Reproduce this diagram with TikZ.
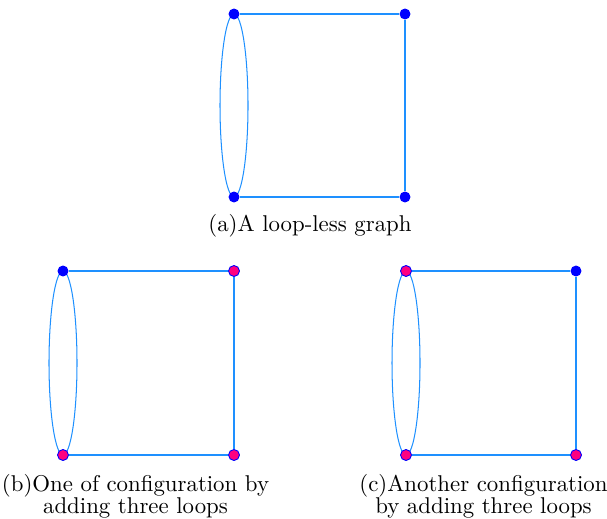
\documentclass[tikz,border=0pt]{standalone}
\usetikzlibrary{calc,backgrounds}

\definecolor{edgeblue}{RGB}{30,144,255}
\definecolor{loopred}{RGB}{255,0,128}

\tikzset{
  vplain/.style={circle, fill=blue, inner sep=0pt, minimum size=4.8pt},
  vloop/.style={circle, fill=loopred, draw=blue, line width=0.4pt, inner sep=0pt, minimum size=4.8pt},
  gedge/.style={edgeblue, line width=0.45pt},
  caption/.style={align=center, anchor=base, inner sep=0pt}
}

\begin{document}
\begin{tikzpicture}[x=0.0154cm, y=-0.0154cm]
  \useasboundingbox (0,0) rectangle (607,518);

  % (a) graph without loops
  \begin{scope}[shift={(234,14)}]
    \node[vplain] (a1) at (0,0) {};
    \node[vplain] (a2) at (171,0) {};
    \node[vplain] (a3) at (0,183) {};
    \node[vplain] (a4) at (171,183) {};
    \begin{scope}[on background layer]
      \draw[gedge] (a1) -- (a2) -- (a4) -- (a3);
      \draw[gedge] ($(a1)!0.5!(a3)$) ellipse [x radius=14*0.0154cm, y radius=91.5*0.0154cm];
    \end{scope}
    \node[caption] (capa) at (76,217) {(a)A loop-less graph};
  \end{scope}

  % (b) three loops, first way
  \begin{scope}[shift={(63,271)}]
    \node[vplain] (b1) at (0,0) {};
    \node[vloop] (b2) at (171,0) {};
    \node[vloop] (b3) at (0,184) {};
    \node[vloop] (b4) at (171,184) {};
    \begin{scope}[on background layer]
      \draw[gedge] (b1) -- (b2) -- (b4) -- (b3);
      \draw[gedge] ($(b1)!0.5!(b3)$) ellipse [x radius=14*0.0154cm, y radius=92*0.0154cm];
    \end{scope}
    \node[caption] (capb) at (72.5,242) {(b)One of configuration by\\[-2.4pt]adding three loops};
  \end{scope}

  % (c) three loops, second way
  \begin{scope}[shift={(406,271)}]
    \node[vloop] (c1) at (0,0) {};
    \node[vplain] (c2) at (170,0) {};
    \node[vloop] (c3) at (0,184) {};
    \node[vloop] (c4) at (170,184) {};
    \begin{scope}[on background layer]
      \draw[gedge] (c1) -- (c2) -- (c4) -- (c3);
      \draw[gedge] ($(c1)!0.5!(c3)$) ellipse [x radius=14*0.0154cm, y radius=92*0.0154cm];
    \end{scope}
    \node[caption] (capc) at (77.5,242) {(c)Another configuration\\[-2.4pt]by adding three loops};
  \end{scope}
\end{tikzpicture}
\end{document}
